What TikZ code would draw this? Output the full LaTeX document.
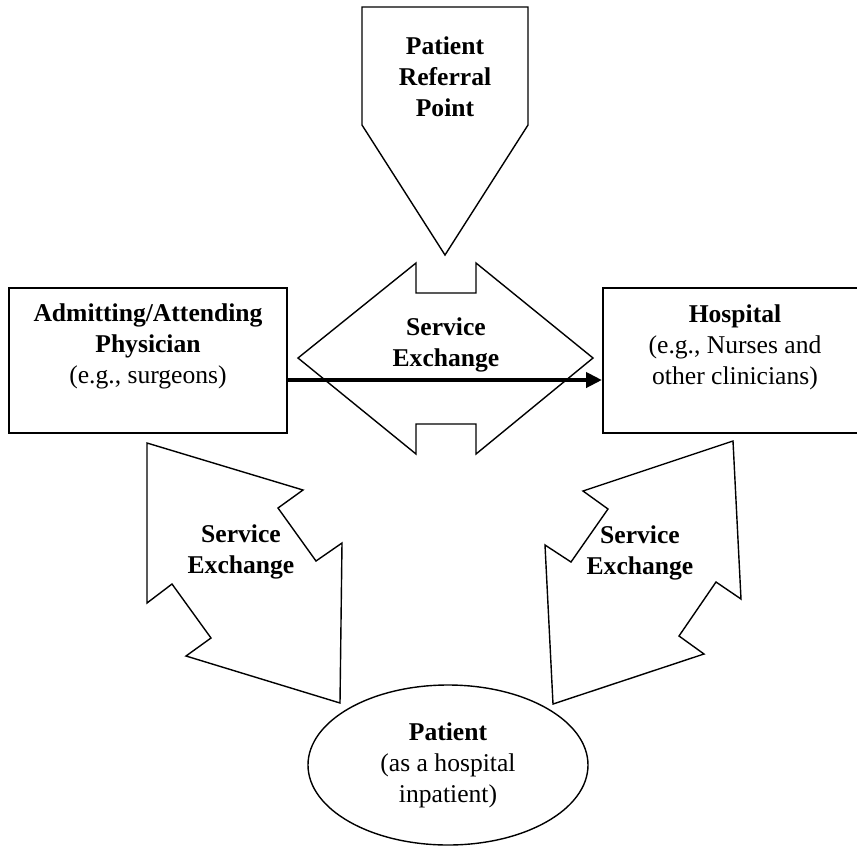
\documentclass[tikz,border=0pt]{standalone}
\usepackage{fontspec}
\setmainfont{Liberation Serif}
\usetikzlibrary{arrows.meta,shapes.geometric}

\tikzset{
  box/.style={draw, line width=1pt, minimum height=72.5pt, inner sep=0pt},
  blockarrow/.style={draw, line width=0.7pt, line join=miter},
  lbl/.style={align=center, inner sep=0pt, font=\fontsize{12.8}{15.5}\selectfont},
  boldlbl/.style={lbl, font=\fontsize{12.8}{15.5}\selectfont\bfseries},
  flow/.style={line width=2pt, -{Triangle[length=8pt,width=7.5pt]}}
}

\begin{document}
\begin{tikzpicture}[x=0.5pt, y=-0.5pt]
  \useasboundingbox (0,0) rectangle (857,847);
  % referral point
  \draw[blockarrow] (362,7) -- (528,7) -- (528,125) -- (445,255) -- (362,125) -- cycle;
  \node[boldlbl] (referral) at (445,77) {Patient\\Referral\\Point};
  % central exchange
  \draw[blockarrow] (298,358) -- (416,263) -- (416,293) -- (476,293) -- (476,263) -- (593,358)
     -- (476,454) -- (476,424) -- (416,424) -- (416,454) -- cycle;
  \node[boldlbl] (midx) at (446,345) {Service\\Exchange};
  % the two parties
  \node[box, minimum width=139pt] (phys) at (148,360.5) {};
  \node[lbl] (physText) at (148,346) {\textbf{Admitting/Attending}\\\textbf{Physician}\\(e.g., surgeons)};
  \node[box, minimum width=129.5pt] (hosp) at (732.5,360.5) {};
  \node[lbl] (hospText) at (735,347) {\textbf{Hospital}\\(e.g., Nurses and\\other clinicians)};
  \draw[flow] ([yshift=-9.75pt]phys.east) -- ([yshift=-9.75pt]hosp.west);
  % left exchange
  \draw[blockarrow] (147,443) -- (303,490) -- (278,508) -- (316,561) -- (342,543) -- (340,703)
     -- (186,656) -- (211,638) -- (172,584) -- (147,603) -- cycle;
  \node[boldlbl] (leftx) at (241,552) {Service\\Exchange};
  % right exchange
  \draw[blockarrow] (733,441) -- (583,491) -- (608,509) -- (571,562) -- (545,545) -- (553,704)
     -- (704,654) -- (679,636) -- (716,582) -- (741,599) -- cycle;
  \node[boldlbl] (rightx) at (640,553) {Service\\Exchange};
  % patient
  \node[ellipse, draw, line width=0.7pt, minimum width=140pt, minimum height=80pt, inner sep=0pt, lbl]
     (patient) at (448,765) {\textbf{Patient}\\(as a hospital\\inpatient)};
\end{tikzpicture}
\end{document}
